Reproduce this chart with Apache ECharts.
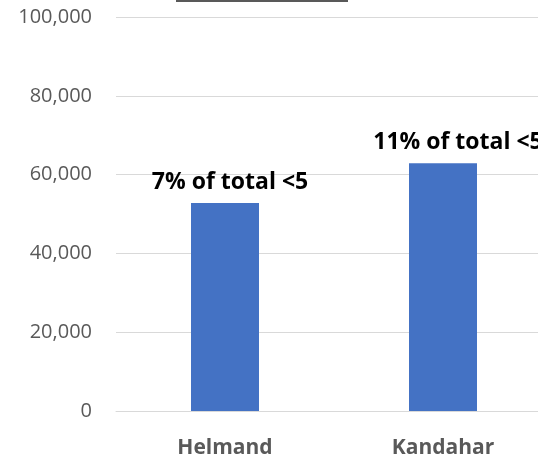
<!DOCTYPE html>
<html>
<head>
<meta charset="utf-8">
<script src="https://cdn.jsdelivr.net/npm/echarts@6/dist/echarts.min.js"></script>
<style>
  html, body { margin: 0; padding: 0; background: #ffffff; }
  #chart { width: 538px; height: 459px; }
</style>
</head>
<body>
<div id="chart"></div>
<script>
// Provinces and their counts
const provinces = ['Helmand', 'Kandahar'];
const counts = [52800, 62900];
const shareLabels = ['7% of total <5', '11% of total <5'];

// Value axis ticks
const yMin = 0;
const yMax = 100000;
const yStep = 20000;

const chart = echarts.init(document.getElementById('chart'), null, { renderer: 'canvas' });

const labelShift = [5, 15];

chart.setOption({
  animation: false,
  backgroundColor: '#ffffff',
  graphic: [{
    type: 'rect',
    left: 176, top: 0,
    shape: { width: 172, height: 2 },
    style: { fill: '#595959' }
  }],
  // plot area runs past the right edge of the canvas
  grid: {
    left: 116, width: 436, top: 17, height: 394,
    containLabel: false,
    outerBoundsMode: 'none'
  },
  xAxis: {
    type: 'category',
    data: provinces,
    axisLine: { lineStyle: { color: '#d9d9d9', width: 1 } },
    axisTick: { show: false },
    axisLabel: {
      color: '#595959',
      fontFamily: 'Open Sans',
      fontWeight: 'bold',
      fontSize: 21,
      lineHeight: 21,
      margin: 27
    }
  },
  yAxis: {
    type: 'value',
    min: yMin,
    max: yMax,
    interval: yStep,
    axisLine: { show: false },
    axisTick: { show: false },
    splitLine: { lineStyle: { color: '#d9d9d9', width: 1 } },
    axisLabel: {
      color: '#595959',
      fontFamily: 'Open Sans',
      fontSize: 20,
      margin: 24,
      formatter: v => v.toLocaleString('en-US')
    }
  },
  series: [{
    type: 'bar',
    barWidth: 68,
    itemStyle: { color: '#4472c4' },
    data: counts.map((v, i) => ({
      value: v,
      label: {
        show: true,
        position: 'top',
        distance: 9,
        offset: [labelShift[i], 0],
        formatter: shareLabels[i],
        color: '#000000',
        fontFamily: 'Open Sans',
        fontWeight: 'bold',
        fontSize: 23,
        lineHeight: 23
      }
    }))
  }]
});
</script>
</body>
</html>
